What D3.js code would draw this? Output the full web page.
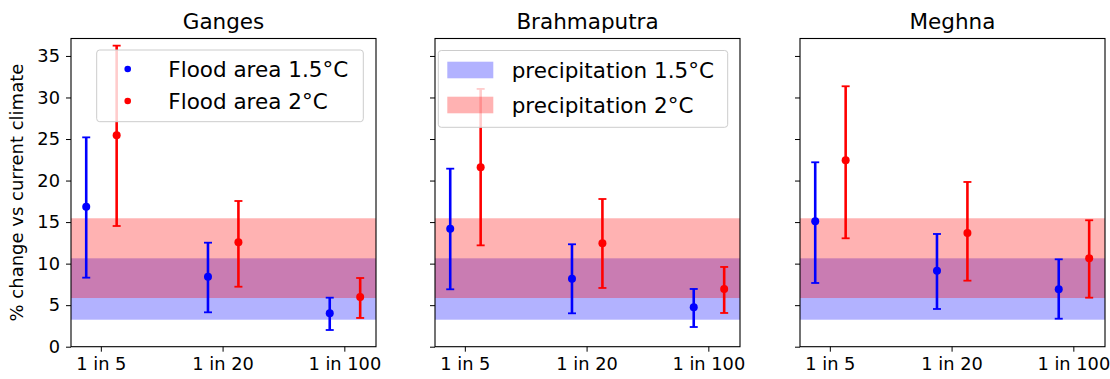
<!DOCTYPE html>
<html>
<head>
<meta charset="utf-8">
<script src="https://d3js.org/d3.v7.min.js"></script>
<style>
  body { margin: 0; background: #fff; }
  svg { display: block; font-family: 'DejaVu Sans', sans-serif; }
  .axis path, .axis line { stroke: #000; }
  .axis text { font-family: 'DejaVu Sans', sans-serif; font-size: 17.8px; fill: #000; }
</style>
</head>
<body>
<svg id="chart" width="1110" height="379"></svg>
<script>
// data
const basins = ['Ganges', 'Brahmaputra', 'Meghna'];
const returnPeriods = ['1 in 5', '1 in 20', '1 in 100'];
const yTicks = [0, 5, 10, 15, 20, 25, 30, 35];

// flood area change, 1.5C
const flood15Mid  = [[16.86, 8.43, 4.02], [14.21, 8.19, 4.74], [15.10, 9.15, 6.91]];
const flood15Low  = [[8.31, 4.14, 2.01],  [6.91, 4.02, 2.37],  [7.67, 4.54, 3.37]];
const flood15High = [[25.20, 12.52, 5.90], [21.43, 12.33, 6.95], [22.20, 13.57, 10.52]];

// flood area change, 2C
const flood20Mid  = [[25.45, 12.57, 5.98], [21.60, 12.45, 6.95], [22.44, 13.69, 10.64]];
const flood20Low  = [[14.53, 7.22, 3.46],  [12.20, 7.07, 4.06],  [13.05, 7.95, 5.90]];
const flood20High = [[36.24, 17.54, 8.27], [31.03, 17.78, 9.60], [31.35, 19.83, 15.22]];

// precipitation change bands (same in each panel)
const precip15 = [3.25, 10.64];
const precip20 = [5.86, 15.46];

const svg = d3.select('#chart');
const panelLeft = [71, 435, 800];
const panelW = 305;
const plotTop = 38.5, plotBottom = 346.7;

const y = d3.scaleLinear().domain([0, 37.1]).range([plotBottom, plotTop]);
const x = d3.scaleLinear().domain([-0.245, 2.26]).range([0, panelW]);
const offset = { blue: -0.12, red: 0.13 };

function drawErrorBars(g, mids, lows, highs, dx, color) {
  mids.forEach(function(m, i) {
    const cx = x(i + dx);
    g.append('line')
      .attr('x1', cx).attr('x2', cx)
      .attr('y1', y(lows[i])).attr('y2', y(highs[i]))
      .attr('stroke', color).attr('stroke-width', 2.6);
    [lows[i], highs[i]].forEach(function(v) {
      g.append('line')
        .attr('x1', cx - 4).attr('x2', cx + 4)
        .attr('y1', y(v)).attr('y2', y(v))
        .attr('stroke', color).attr('stroke-width', 1.8);
    });
    g.append('circle')
      .attr('cx', cx).attr('cy', y(m)).attr('r', 4)
      .attr('fill', color);
  });
}

basins.forEach(function(name, p) {
  const g = svg.append('g').attr('transform', 'translate(' + panelLeft[p] + ',0)');

  // precipitation bands
  g.append('rect')
    .attr('x', 0).attr('width', panelW)
    .attr('y', y(precip15[1])).attr('height', y(precip15[0]) - y(precip15[1]))
    .attr('fill', 'rgba(0,0,255,0.3)');
  g.append('rect')
    .attr('x', 0).attr('width', panelW)
    .attr('y', y(precip20[1])).attr('height', y(precip20[0]) - y(precip20[1]))
    .attr('fill', 'rgba(255,0,0,0.3)');

  drawErrorBars(g, flood15Mid[p], flood15Low[p], flood15High[p], offset.blue, '#0000ff');
  drawErrorBars(g, flood20Mid[p], flood20Low[p], flood20High[p], offset.red, '#ff0000');

  // axes
  const yAxis = d3.axisLeft(y).tickValues(yTicks).tickSize(5).tickPadding(6);
  if (p > 0) yAxis.tickFormat('');
  g.append('g').attr('class', 'axis').call(yAxis)
    .call(function(a) { a.select('.domain').remove(); });

  const xAxis = d3.axisBottom(x).tickValues([0, 1, 2])
    .tickFormat(function(d) { return returnPeriods[d]; })
    .tickSize(5).tickPadding(6);
  g.append('g').attr('class', 'axis')
    .attr('transform', 'translate(0,' + plotBottom + ')')
    .call(xAxis)
    .call(function(a) { a.select('.domain').remove(); });

  g.append('rect')
    .attr('x', 0).attr('y', plotTop).attr('width', panelW).attr('height', plotBottom - plotTop)
    .attr('fill', 'none').attr('stroke', '#000').attr('stroke-width', 1.1);

  g.append('text')
    .attr('x', panelW / 2).attr('y', 28.5)
    .attr('text-anchor', 'middle')
    .attr('font-size', 21.5)
    .text(name);

  // legends
  if (p === 0) {
    const lg = g.append('g');
    lg.append('rect')
      .attr('x', 25.7).attr('y', 50).attr('width', 266.6).attr('height', 71.7)
      .attr('rx', 3).attr('fill', 'rgba(255,255,255,0.8)')
      .attr('stroke', '#cccccc').attr('stroke-width', 1);
    const items = [['Flood area 1.5°C', '#0000ff'], ['Flood area 2°C', '#ff0000']];
    items.forEach(function(it, i) {
      const cy = 69 + i * 32;
      lg.append('circle').attr('cx', 56.7).attr('cy', cy).attr('r', 3.3).attr('fill', it[1]);
      lg.append('text').attr('x', 97.3).attr('y', cy + 7.7)
        .attr('font-size', 21.5).text(it[0]);
    });
  }
  if (p === 1) {
    const lg = g.append('g');
    lg.append('rect')
      .attr('x', 3.3).attr('y', 50.5).attr('width', 289.4).attr('height', 76.8)
      .attr('rx', 3).attr('fill', 'rgba(255,255,255,0.8)')
      .attr('stroke', '#cccccc').attr('stroke-width', 1);
    const items = [['precipitation 1.5°C', 'rgba(0,0,255,0.3)'], ['precipitation 2°C', 'rgba(255,0,0,0.3)']];
    items.forEach(function(it, i) {
      const cy = 70 + i * 35;
      lg.append('rect').attr('x', 12.3).attr('y', cy - 8.3).attr('width', 46).attr('height', 16.6)
        .attr('fill', it[1]);
      lg.append('text').attr('x', 76.7).attr('y', cy + 7.7)
        .attr('font-size', 21.5).text(it[0]);
    });
  }
});

svg.append('text')
  .attr('transform', 'translate(23,' + ((plotTop + plotBottom) / 2) + ') rotate(-90)')
  .attr('text-anchor', 'middle')
  .attr('font-size', 18)
  .text('% change vs current climate');
</script>
</body>
</html>
